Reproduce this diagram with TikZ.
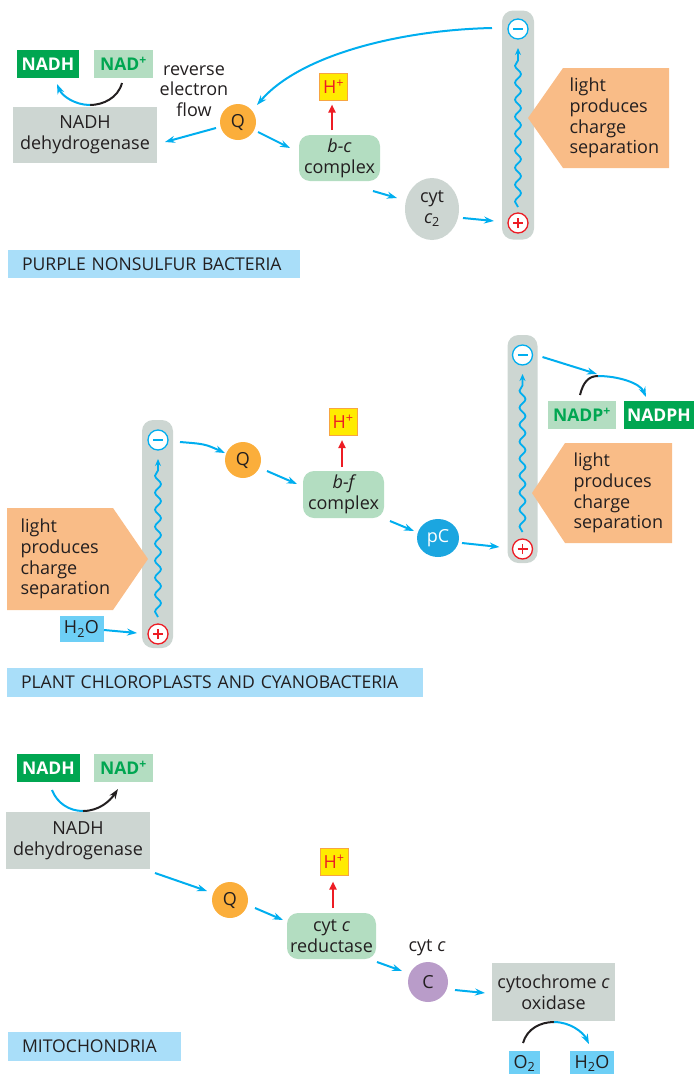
\documentclass[tikz,border=0pt]{standalone}
\usepackage{fontspec}
\setmainfont{Open Sans}
\usetikzlibrary{arrows.meta,shapes.geometric,decorations.pathmorphing}
\definecolor{eblue}{HTML}{00AEEF}
\definecolor{bargray}{HTML}{CDD6D2}
\definecolor{lgreen}{HTML}{B3DDC1}
\definecolor{dgreen}{HTML}{00A651}
\definecolor{qorange}{HTML}{FBAE3B}
\definecolor{peach}{HTML}{F9BC87}
\definecolor{lblue}{HTML}{A9DEF9}
\definecolor{wblue}{HTML}{6DCFF6}
\definecolor{pcblue}{HTML}{1BA6E0}
\definecolor{cpurple}{HTML}{B99CC9}
\definecolor{hyellow}{HTML}{FFEB00}
\definecolor{horange}{HTML}{F7A541}
\definecolor{hred}{HTML}{ED1C24}
\definecolor{txt}{HTML}{231F20}
\tikzset{
  every node/.style={font=\fontsize{18}{20.8}\selectfont, text=txt},
  graybox/.style={rectangle, fill=bargray, inner sep=0pt, align=center},
  nadd/.style={rectangle, fill=dgreen, text=white, inner sep=0pt, minimum height=28pt, font=\fontsize{17.5}{19}\selectfont\bfseries},
  nadl/.style={rectangle, fill=lgreen, text=dgreen, inner sep=0pt, minimum height=28pt, font=\fontsize{17.5}{19}\selectfont\bfseries},
  hbox/.style={rectangle, fill=hyellow, draw=horange, line width=1pt, text=hred, inner sep=0pt, minimum width=28pt, minimum height=27pt},
  cplx/.style={rectangle, rounded corners=11pt, fill=lgreen, inner sep=0pt, align=center},
  bar/.style={rectangle, rounded corners=11pt, fill=bargray, inner sep=0pt, minimum height=229pt},
  qnode/.style={circle, fill=qorange, inner sep=0pt, minimum size=36pt},
  minusc/.style={circle, fill=white, draw=eblue, line width=1.3pt, inner sep=0pt, minimum size=20pt},
  plusc/.style={circle, fill=white, draw=hred, line width=1.3pt, inner sep=0pt, minimum size=20pt},
  wbox/.style={rectangle, fill=wblue, inner sep=0pt},
  tag/.style={rectangle, fill=lblue, inner xsep=14pt, inner ysep=0pt, align=left, font=\fontsize{17.6}{19}\selectfont},
  earr/.style={draw=eblue, line width=2pt, -{Stealth[length=10pt,width=7pt]}},
  rarr/.style={draw=hred, line width=2.4pt, -{Triangle[length=8pt,width=7pt]}},
  kline/.style={draw=txt, line width=2pt},
  bline/.style={draw=eblue, line width=2pt},
  wavy/.style={draw=eblue, line width=1.8pt, decorate, decoration={snake, amplitude=3pt, segment length=17pt, post length=5pt}, -{Stealth[length=7pt,width=6pt]}},
  pent/.style={fill=peach},
  ptext/.style={anchor=west, align=left}
}
\begin{document}
\begin{tikzpicture}[x=1pt,y=-1pt]
\useasboundingbox (0,0) rectangle (695,1074);
% ================= Section 1 =================
\node[bar, minimum width=32pt] (bar1) at (518,125) {};
\fill[pent] (528,118) -- (563,68) -- (669,68) -- (669,168) -- (563,168) -- cycle;
\node[ptext] (lt1) at (566,118) {light\\produces\\charge\\separation};
\node[minusc] (m1) at (518,29) {};
\node[plusc] (p1) at (518,223) {};
\draw[eblue, line width=1.3pt] ([xshift=-5pt]m1.center) -- ([xshift=5pt]m1.center);
\draw[hred, line width=1.3pt] ([xshift=-5pt]p1.center) -- ([xshift=5pt]p1.center) ([yshift=-5pt]p1.center) -- ([yshift=5pt]p1.center);
\draw[wavy] ([shift={(0,-16)}]p1.center) -- ([shift={(0,19)}]m1.center);

\node[nadd, minimum width=62pt] (nadh1) at (48,64) {NADH};
\node[nadl, minimum width=59pt] (nadp1) at (123.5,64) {NAD\textsuperscript{+}};
\node[graybox, minimum width=144pt, minimum height=56pt] (dh1) at (85,135) {NADH\\dehydrogenase};
\node[align=center] (rev) at (194,91) {reverse\\electron\\flow};
\node[qnode] (q1) at (238,122) {Q};
\node[hbox] (hp1) at (333.5,86.5) {H\textsuperscript{+}};
\node[cplx, minimum width=81pt, minimum height=46pt] (bc) at (339.5,158) {\itshape b-c\\complex};
\node[ellipse, fill=bargray, inner sep=0pt, minimum width=54pt, minimum height=62pt, align=center] (c2) at (432,209) {cyt\\{\itshape c}\textsubscript{2}};

\coordinate (j1) at ([shift={(5,-30)}]dh1.center);
\draw[kline] ([shift={(-1.5,19)}]nadp1.center) .. controls +(-4,15) and +(13,0) .. (j1);
\draw[bline, -{Stealth[length=10pt,width=7pt]}] (j1) .. controls +(-15,0) and +(5,12) .. ([shift={(9,20)}]nadh1.center);

\draw[earr] ([shift={(-26,-1)}]m1.center) .. controls +(-92,2) and +(43,-50) .. ([shift={(19,-17)}]q1.center);
\draw[earr] ([shift={(-22,6)}]q1.center) -- ([shift={(80,7)}]dh1.center);
\draw[earr] ([shift={(20,10)}]q1.center) -- ([shift={(-49.5,-10)}]bc.center);
\draw[rarr] ([shift={(-7.5,-28)}]bc.center) -- ([shift={(-1.5,18)}]hp1.center);
\draw[earr] ([shift={(33.5,33)}]bc.center) -- ([shift={(-35,-11)}]c2.center);
\draw[earr] ([shift={(31,9)}]c2.center) -- ([shift={(-24,-2)}]p1.center);

\node[tag, text width=264pt, minimum height=28pt] (lab1) at (154,264) {PURPLE NONSULFUR BACTERIA};

% ================= Section 2 =================
\node[bar, minimum width=31pt, minimum height=228pt] (bar2) at (157.5,534) {};
\fill[pent] (7,508) -- (113,508) -- (148,559) -- (113,610) -- (7,610) -- cycle;
\node[ptext] (lt2) at (17,559) {light\\produces\\charge\\separation};
\node[minusc] (m2) at (158,440) {};
\node[plusc] (p2) at (158,634) {};
\draw[eblue, line width=1.3pt] ([xshift=-5pt]m2.center) -- ([xshift=5pt]m2.center);
\draw[hred, line width=1.3pt] ([xshift=-5pt]p2.center) -- ([xshift=5pt]p2.center) ([yshift=-5pt]p2.center) -- ([yshift=5pt]p2.center);
\draw[wavy] ([shift={(0,-17)}]p2.center) -- ([shift={(0,19)}]m2.center);

\node[bar, minimum width=30pt, minimum height=228pt] (bar3) at (522.5,449) {};
\fill[pent] (532,493) -- (565,443) -- (672,443) -- (672,543) -- (565,543) -- cycle;
\node[ptext] (lt3) at (570,493) {light\\produces\\charge\\separation};
\node[minusc] (m3) at (522.5,355) {};
\node[plusc] (p3) at (522.5,549) {};
\draw[eblue, line width=1.3pt] ([xshift=-5pt]m3.center) -- ([xshift=5pt]m3.center);
\draw[hred, line width=1.3pt] ([xshift=-5pt]p3.center) -- ([xshift=5pt]p3.center) ([yshift=-5pt]p3.center) -- ([yshift=5pt]p3.center);
\draw[wavy] ([shift={(0,-17)}]p3.center) -- ([shift={(0,19)}]m3.center);

\node[wbox, minimum width=44pt, minimum height=26pt] (h2o2) at (81.5,629) {H\textsubscript{2}O};
\node[qnode] (q2) at (243,460) {Q};
\node[hbox] (hp2) at (343,422) {H\textsuperscript{+}};
\node[cplx, minimum width=81pt, minimum height=47pt] (bf) at (343.5,494.5) {\itshape b-f\\complex};
\node[ellipse, fill=pcblue, text=white, inner sep=0pt, minimum width=42pt, minimum height=38pt] (pc) at (438,538) {pC};
\node[nadl, minimum width=68pt] (nadpp) at (582,415) {NADP\textsuperscript{+}};
\node[nadd, minimum width=70pt] (nadph) at (659,415) {NADPH};

\draw[earr] ([shift={(22.5,1)}]h2o2.center) -- ([shift={(-21,-1)}]p2.center);
\draw[earr] ([shift={(22,2)}]m2.center) .. controls +(25,2) .. ([shift={(-18,-7)}]q2.center);
\draw[earr] ([shift={(24,11)}]q2.center) -- ([shift={(-46.5,-10.5)}]bf.center);
\draw[rarr] ([shift={(-1.5,-27.5)}]bf.center) -- ([shift={(-1,18)}]hp2.center);
\draw[earr] ([shift={(46.5,26.5)}]bf.center) -- ([shift={(-24,-7)}]pc.center);
\draw[earr] ([shift={(24,5)}]pc.center) -- ([shift={(-23,-2)}]p3.center);
\coordinate (j3) at ([shift={(16,-39)}]nadpp.center);
\draw[earr] ([shift={(20,2)}]m3.center) -- ([shift={(-1,-2)}]j3);
\draw[kline] ([shift={(-2,-20)}]nadpp.center) .. controls +(3,-12) and +(-10,0) .. (j3);
\draw[bline, -{Stealth[length=10pt,width=7pt]}] (j3) .. controls +(20,0) and +(-6,-14) .. ([shift={(-13,-18)}]nadph.center);

\node[tag, text width=388pt, minimum height=29pt] (lab2) at (215,682.5) {PLANT CHLOROPLASTS AND CYANOBACTERIA};

% ================= Section 3 =================
\node[nadd, minimum width=63pt] (nadh3) at (48.5,768) {NADH};
\node[nadl, minimum width=59pt] (nadp3) at (123.5,768) {NAD\textsuperscript{+}};
\node[graybox, minimum width=144pt, minimum height=57pt] (dh3) at (78,840.5) {NADH\\dehydrogenase};
\node[qnode] (q3) at (230,900) {Q};
\node[hbox] (hp3) at (334,861.5) {H\textsuperscript{+}};
\node[cplx, minimum width=89pt, minimum height=46pt] (red3) at (331.5,936) {cyt {\itshape c}\\reductase};
\node (cytc) at (427,948) {cyt {\itshape c}};
\node[circle, fill=cpurple, inner sep=0pt, minimum size=40pt] (c3) at (428,982) {C};
\node[graybox, minimum width=123pt, minimum height=58pt] (ox) at (553.5,992) {cytochrome {\itshape c}\\oxidase};
\node[wbox, minimum width=31pt, minimum height=25pt] (o2) at (524.5,1063.5) {O\textsubscript{2}};
\node[wbox, minimum width=44pt, minimum height=25pt] (h2o3) at (592,1063.5) {H\textsubscript{2}O};

\coordinate (j5) at ([shift={(5,-29.5)}]dh3.center);
\draw[bline] ([shift={(3.5,22)}]nadh3.center) .. controls +(5,13) and +(-14,0) .. (j5);
\draw[kline, -{Stealth[length=10pt,width=7pt]}] (j5) .. controls +(16,0) and +(-8,12) .. ([shift={(-5.5,21)}]nadp3.center);

\draw[earr] ([shift={(77,32.5)}]dh3.center) -- ([shift={(-23,-9)}]q3.center);
\draw[earr] ([shift={(25,8)}]q3.center) -- ([shift={(-48.5,-16)}]red3.center);
\draw[rarr] ([shift={(1.5,-28)}]red3.center) -- ([shift={(-1,20)}]hp3.center);
\draw[earr] ([shift={(45.5,26)}]red3.center) -- ([shift={(-26,-11)}]c3.center);
\draw[earr] ([shift={(27,8)}]c3.center) -- ([shift={(-68.5,1)}]ox.center);

\coordinate (j6) at ([shift={(0.5,30)}]ox.center);
\draw[kline] ([shift={(-1.5,-20.5)}]o2.center) .. controls +(4,-14) and +(-14,0) .. (j6);
\draw[bline, -{Stealth[length=10pt,width=7pt]}] (j6) .. controls +(16,0) and +(-6,-12) .. ([shift={(-3,-19.5)}]h2o3.center);

\node[tag, text width=145pt, minimum height=29pt] (lab3) at (94.5,1046.5) {MITOCHONDRIA};
\end{tikzpicture}
\end{document}
